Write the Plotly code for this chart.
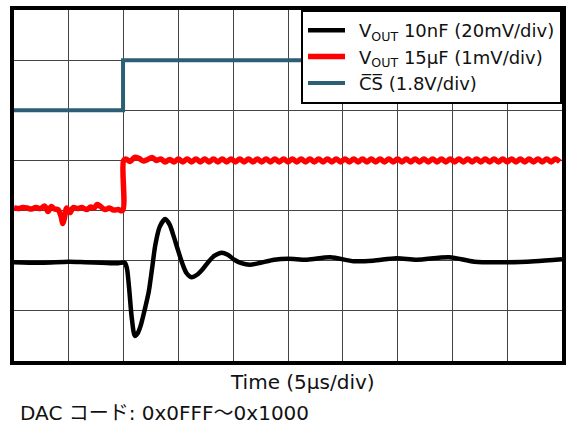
import plotly.graph_objects as go

# Screen coordinates in divisions (10 horizontal x 7 vertical)
cs_x = [0.0, 1.99, 1.99, 10.0]
cs_y = [5.0, 5.0, 6.0, 6.0]

black_x = [0.0, 0.5, 1.0, 1.3, 1.6, 1.9, 2.02, 2.06, 2.10, 2.15, 2.206, 2.26, 2.31, 2.38, 2.46,
           2.52, 2.58, 2.66, 2.76, 2.84, 2.91, 2.99, 3.07, 3.15, 3.24, 3.34, 3.45, 3.55, 3.66,
           3.79, 3.90, 4.02, 4.15, 4.30, 4.50, 4.75, 5.0, 5.35, 5.77, 6.2, 6.55,
           6.98, 7.35, 7.94, 8.4, 9.0, 9.5, 10.0]
black_y = [1.97, 1.96, 1.98, 1.97, 1.96, 1.95, 1.96, 1.85, 1.46, 0.85, 0.50, 0.56, 0.70, 1.00, 1.39,
           1.85, 2.32, 2.68, 2.83, 2.72, 2.50, 2.22, 1.95, 1.75, 1.67, 1.72, 1.84, 1.98, 2.10,
           2.16, 2.12, 2.02, 1.95, 1.92, 1.96, 2.02, 2.04, 2.02, 2.07, 1.99, 2.00,
           2.05, 2.02, 2.07, 1.98, 1.97, 1.99, 2.03]

red_x = [0.00, 0.08, 0.16, 0.24, 0.32, 0.40, 0.48, 0.56, 0.62, 0.68, 0.74, 0.80, 0.86, 0.89, 0.92,
         0.96, 1.02, 1.08, 1.16, 1.24, 1.32, 1.40, 1.46, 1.52, 1.58, 1.66, 1.74, 1.82, 1.90, 1.98,
         2.00, 2.04, 2.12, 2.20, 2.28, 2.36, 2.44, 2.52, 2.60, 2.68, 2.76, 2.84, 2.92,
         3.00, 3.08, 3.16, 3.24, 3.32, 3.40, 3.48, 3.56, 3.64, 3.72, 3.80, 3.88, 3.96,
         4.04, 4.12, 4.20, 4.28, 4.36, 4.44, 4.52, 4.60, 4.68, 4.76, 4.84, 4.92,
         5.00, 5.08, 5.16, 5.24, 5.32, 5.40, 5.48, 5.56, 5.64, 5.72, 5.80, 5.88, 5.96,
         6.04, 6.12, 6.20, 6.28, 6.36, 6.44, 6.52, 6.60, 6.68, 6.76, 6.84, 6.92,
         7.00, 7.08, 7.16, 7.24, 7.32, 7.40, 7.48, 7.56, 7.64, 7.72, 7.80, 7.88, 7.96,
         8.04, 8.12, 8.20, 8.28, 8.36, 8.44, 8.52, 8.60, 8.68, 8.76, 8.84, 8.92,
         9.00, 9.08, 9.16, 9.24, 9.32, 9.40, 9.48, 9.56, 9.64, 9.72, 9.80, 9.88, 9.96]
red_y = [3.05, 3.04, 3.06, 3.05, 3.03, 3.06, 3.04, 3.09, 2.98, 3.08, 3.03, 3.02, 2.88, 2.74, 2.85,
         3.05, 2.96, 3.06, 3.04, 3.06, 3.02, 3.07, 3.05, 3.12, 3.08, 3.02, 3.05, 3.01, 3.02, 3.00,
         4.00, 4.03, 3.98, 4.06, 4.04, 3.99, 4.02, 4.06, 4.00, 4.03, 3.97, 4.02, 3.97,
         4.03, 3.97, 4.03, 3.97, 4.03, 3.97, 4.03, 3.97, 4.03, 3.97, 4.03, 3.97, 4.03,
         3.97, 4.03, 3.97, 4.03, 3.97, 4.03, 3.97, 4.03, 3.97, 4.03, 3.97, 4.03,
         3.97, 4.03, 3.97, 4.03, 3.97, 4.03, 3.97, 4.03, 3.97, 4.03, 3.97, 4.03, 3.97,
         4.03, 3.97, 4.03, 3.97, 4.03, 3.97, 4.03, 3.97, 4.03, 3.97, 4.03, 3.97,
         4.03, 3.97, 4.03, 3.97, 4.03, 3.97, 4.03, 3.97, 4.03, 3.97, 4.03, 3.97, 4.03,
         3.97, 4.03, 3.97, 4.03, 3.97, 4.03, 3.97, 4.03, 3.97, 4.03, 3.97, 4.03,
         3.97, 4.03, 3.97, 4.03, 3.97, 4.03, 3.97, 4.03, 3.97, 4.03, 3.97, 4.03, 3.97]

legend_names = ["\u2002V<sub>OUT</sub> 10nF (20mV/div)",
                "\u2002V<sub>OUT</sub> 15\u00b5F (1mV/div)",
                "\u2002C\u0305S\u0305 (1.8V/div)"]
x_label = "Time (5\u00b5s/div)"
footnote = "DAC コード: 0x0FFF～0x1000"

LATIN = "DejaVu Sans, Noto Sans CJK JP"

fig = go.Figure()
fig.add_trace(go.Scatter(x=cs_x, y=cs_y, mode="lines", name=legend_names[2],
                         line=dict(color="#2C5F76", width=4), legendrank=3))
fig.add_trace(go.Scatter(x=red_x, y=red_y, mode="lines", name=legend_names[1],
                         line=dict(color="#FF0000", width=5.5, shape="spline", smoothing=1.0),
                         legendrank=2))
fig.add_trace(go.Scatter(x=black_x, y=black_y, mode="lines", name=legend_names[0],
                         line=dict(color="#000000", width=4.5, shape="spline", smoothing=0.8),
                         legendrank=1))

axis_common = dict(showticklabels=False, ticks="", showgrid=True, gridcolor="#444444",
                   gridwidth=1.2, zeroline=False, showline=True, linecolor="#000000",
                   linewidth=3.5, mirror=True, dtick=1, tick0=0, fixedrange=True)
fig.update_xaxes(range=[0, 10], **axis_common)
fig.update_yaxes(range=[0, 7], **axis_common)

fig.update_layout(
    width=571, height=432,
    margin=dict(l=14, r=5, t=10, b=71),
    paper_bgcolor="white", plot_bgcolor="white",
    font=dict(family=LATIN, color="#111111"),
    showlegend=True,
    legend=dict(x=1, y=1, xanchor="right", yanchor="top", bgcolor="white",
                bordercolor="#000000", borderwidth=2,
                font=dict(size=18, color="#111111", family=LATIN), tracegroupgap=0,
                itemwidth=37),
    annotations=[
        dict(text=x_label, xref="paper", yref="paper", x=0.527, y=-0.06,
             xanchor="center", yanchor="middle", showarrow=False,
             font=dict(size=20, color="#111111", family=LATIN)),
        dict(text=footnote, xref="paper", yref="paper", x=0.0, y=-0.148,
             xanchor="left", yanchor="middle", showarrow=False, xshift=4,
             font=dict(size=20, color="#111111", family=LATIN)),
    ],
)

fig.write_html("out.html", config={"displayModeBar": False},
               post_script="document.body.style.margin='0px';document.body.style.overflow='hidden';")
